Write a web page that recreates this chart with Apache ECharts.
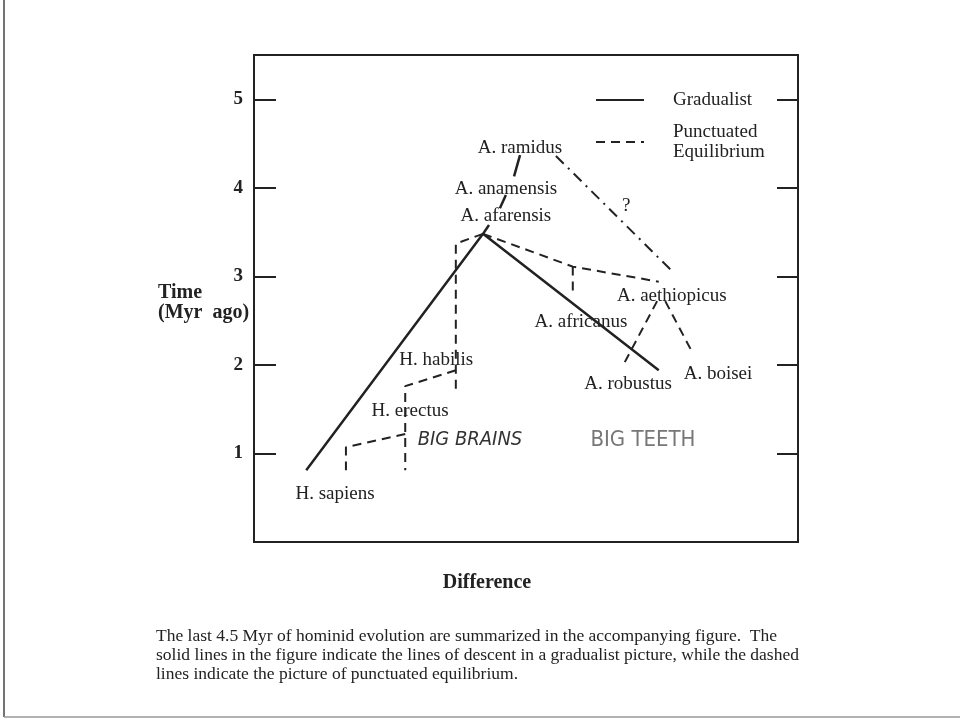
<!DOCTYPE html>
<html>
<head>
<meta charset="utf-8">
<script src="https://cdn.jsdelivr.net/npm/echarts@6/dist/echarts.min.js"></script>
<style>
  body { margin: 0; background: #fff; }
  #main { width: 960px; height: 719px; }
</style>
</head>
<body>
<div id="main"></div>
<script>
// x = "Difference" (arbitrary 0-100), y = Time (Myr ago)
const serif = '"Liberation Serif", "Times New Roman", serif'
const ink = '#222'

// solid lines of descent (gradualist)
const gradualistPaths = [
  [[9.6, 0.81], [42.1, 3.48], [74.4, 1.94]],
  [[48.9, 4.37], [47.8, 4.13]],
  [[46.3, 3.92], [45.2, 3.77]],
  [[43.2, 3.58], [42.1, 3.48]]
]
// dashed lines (punctuated equilibrium)
const punctuatedPaths = [
  [[42.1, 3.48], [37.1, 3.37], [37.1, 1.69]],
  [[37.1, 1.94], [27.8, 1.76], [27.8, 0.81]],
  [[27.8, 1.22], [16.9, 1.07], [16.9, 0.81]],
  [[42.1, 3.48], [58.6, 3.11], [74.4, 2.94]],
  [[58.6, 3.11], [58.6, 2.78]],
  [[74.1, 2.72], [67.8, 1.99]],
  [[75.6, 2.72], [80.5, 2.15]]
]
// dash-dot, uncertain link
const uncertainPath = [[55.5, 4.36], [77.0, 3.05]]

// species labels
const speciesNames = ['A. ramidus', 'A. anamensis', 'A. afarensis', '?', 'A. aethiopicus', 'A. africanus',
  'A. boisei', 'A. robustus', 'H. habilis', 'H. erectus', 'H. sapiens']
const speciesX = [48.9, 46.3, 46.3, 68.4, 76.8, 60.1, 85.3, 68.75, 33.5, 28.7, 14.9]
const speciesY = [4.45, 3.99, 3.68, 3.79, 2.78, 2.48, 1.90, 1.78, 2.06, 1.48, 0.54]

// handwritten notes
const noteNames = ['BIG BRAINS', 'BIG TEETH']
const noteX = [39.7, 71.5]
const noteY = [1.15, 1.15]
const noteColors = ['#333', '#777']
const noteSizes = [20, 22]

const yTicks = [1, 2, 3, 4, 5]

const captionLines = [
  'The last 4.5 Myr of hominid evolution are summarized in the accompanying figure.  The',
  'solid lines in the figure indicate the lines of descent in a gradualist picture, while the dashed',
  'lines indicate the picture of punctuated equilibrium.'
]

const myChart = echarts.init(document.getElementById('main'))

const pathSeries = (paths, name, type, width) => paths.map((p) => ({
  name: name,
  type: 'line',
  data: p,
  symbol: 'none',
  silent: true,
  animation: false,
  lineStyle: { color: ink, width: width, type: type }
}))

const yAxisBase = {
  type: 'value',
  min: 0,
  max: 5.5,
  interval: 1,
  splitLine: { show: false },
  axisLine: { show: true, lineStyle: { color: ink, width: 2 } },
  axisTick: { show: true, inside: true, length: 22, lineStyle: { color: ink, width: 2 } }
}

const option = {
  backgroundColor: '#fff',
  grid: { left: 254, right: 162, top: 55, bottom: 177, show: true, borderColor: ink, borderWidth: 2 },
  xAxis: {
    type: 'value',
    min: 0,
    max: 100,
    axisLine: { show: false },
    axisTick: { show: false },
    axisLabel: { show: false },
    splitLine: { show: false }
  },
  yAxis: [
    Object.assign({}, yAxisBase, {
      position: 'left',
      axisLabel: {
        fontFamily: serif, fontWeight: 'bold', fontSize: 19, color: ink, margin: 11,
        formatter: (v) => (yTicks.indexOf(v) >= 0 ? String(v) : '')
      }
    }),
    Object.assign({}, yAxisBase, {
      position: 'right',
      axisTick: { show: true, inside: true, length: 21, lineStyle: { color: ink, width: 2 } },
      axisLabel: { show: false }
    })
  ],
  legend: {
    data: ['Gradualist', 'Punctuated\nEquilibrium'],
    orient: 'vertical',
    left: 595,
    top: 90,
    padding: 0,
    itemWidth: 48,
    itemHeight: 14,
    itemGap: 12,
    selectedMode: false,
    itemStyle: { opacity: 0 },
    textStyle: { fontFamily: serif, fontSize: 19, color: ink, lineHeight: 20, padding: [0, 0, 0, 24] }
  },
  graphic: [
    { type: 'text', left: 158, top: 283, style: { text: 'Time', font: 'bold 20px ' + serif, fill: ink } },
    { type: 'text', left: 158, top: 303, style: { text: '(Myr  ago)', font: 'bold 20px ' + serif, fill: ink } },
    { type: 'text', x: 487, y: 583, style: { text: 'Difference', font: 'bold 20px ' + serif, fill: ink, align: 'center', verticalAlign: 'middle' } },
    { type: 'text', left: 156, top: 627, style: { text: captionLines.join('\n'), font: '17.5px ' + serif, fill: ink, lineHeight: 19 } },
    { type: 'line', shape: { x1: 4, y1: 0, x2: 4, y2: 717 }, style: { stroke: '#444', lineWidth: 1.5 } },
    { type: 'line', shape: { x1: 4, y1: 717, x2: 960, y2: 717 }, style: { stroke: '#999', lineWidth: 1.5 } }
  ],
  series: [
    ...pathSeries(gradualistPaths, 'Gradualist', 'solid', 2.5),
    ...pathSeries(punctuatedPaths, 'Punctuated\nEquilibrium', [9, 6], 2),
    {
      name: 'uncertain',
      type: 'line',
      data: uncertainPath,
      symbol: 'none',
      silent: true,
      animation: false,
      lineStyle: { color: ink, width: 2, type: [11, 6, 2, 6] }
    },
    {
      name: 'species',
      type: 'scatter',
      symbolSize: 0,
      silent: true,
      animation: false,
      itemStyle: { opacity: 1 },
      data: speciesNames.map((n, i) => ({ name: n, value: [speciesX[i], speciesY[i]] })),
      label: { show: true, position: 'inside', formatter: '{b}', fontFamily: serif, fontSize: 19, color: ink }
    },
    {
      name: 'notes',
      type: 'scatter',
      symbolSize: 0,
      silent: true,
      animation: false,
      itemStyle: { opacity: 1 },
      data: noteNames.map((n, i) => ({
        name: n,
        value: [noteX[i], noteY[i]],
        label: { color: noteColors[i], fontSize: noteSizes[i], fontStyle: i === 0 ? 'italic' : 'normal' }
      })),
      label: { show: true, position: 'inside', formatter: '{b}', fontFamily: '"DejaVu Sans Condensed", "DejaVu Sans", sans-serif' }
    }
  ]
}

option && myChart.setOption(option)
</script>
</body>
</html>
